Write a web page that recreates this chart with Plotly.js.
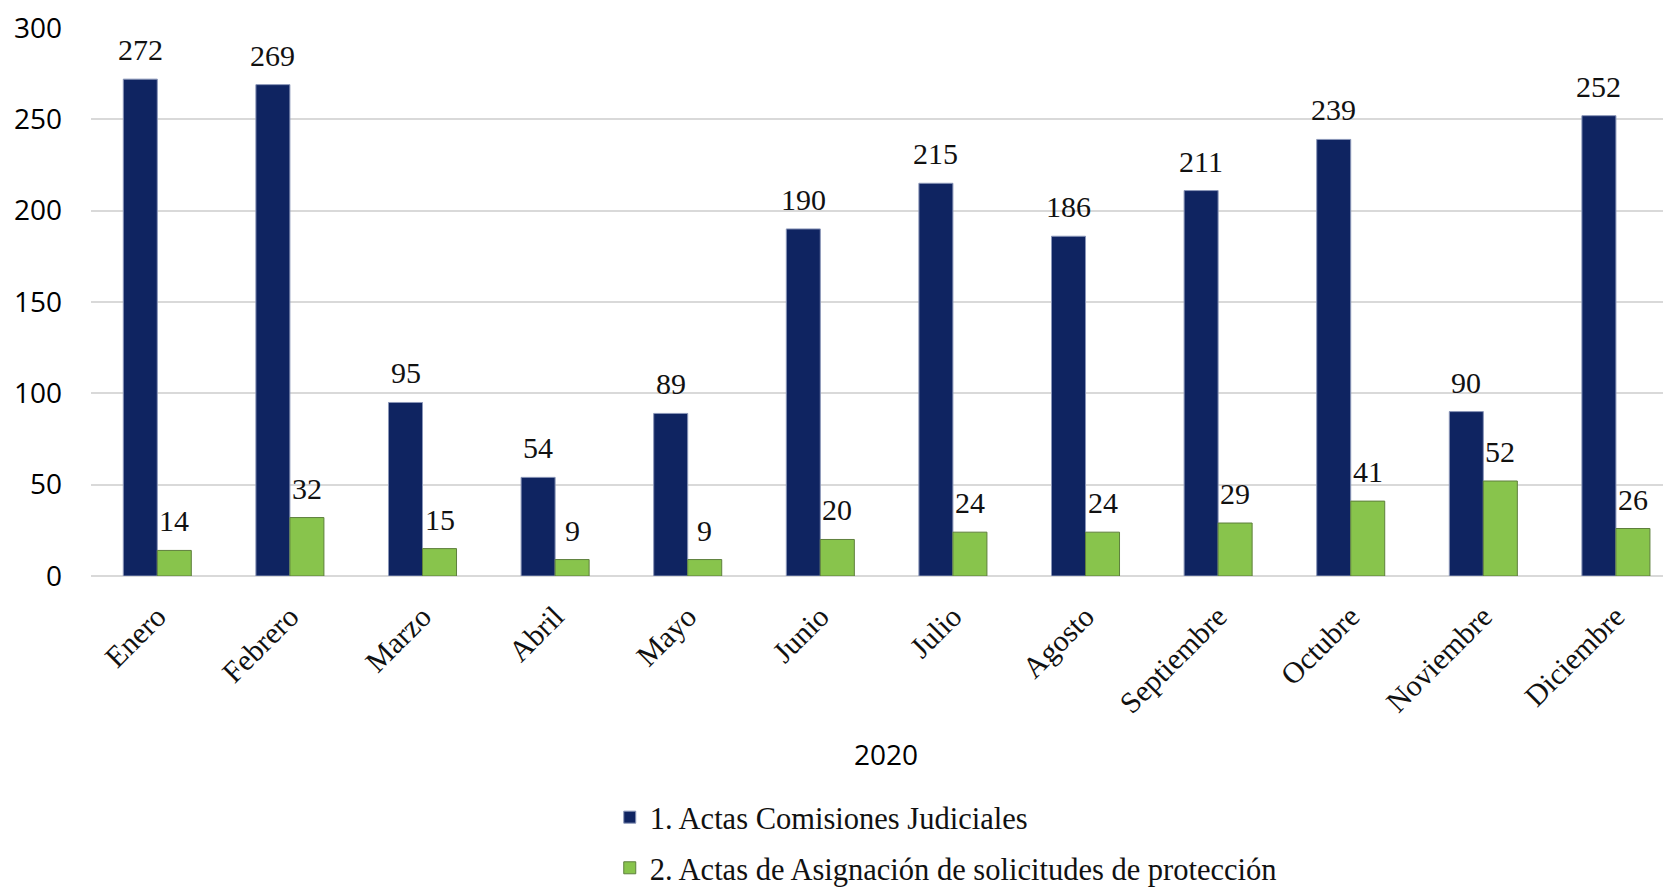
<!DOCTYPE html>
<html>
<head>
<meta charset="utf-8">
<script src="https://cdn.plot.ly/plotly-3.0.1.min.js"></script>
<style>html,body{margin:0;padding:0;background:#fff;}#chart{width:1663px;height:892px;}</style>
</head>
<body>
<div id="chart"></div>
<script>
const months = ["Enero","Febrero","Marzo","Abril","Mayo","Junio","Julio","Agosto","Septiembre","Octubre","Noviembre","Diciembre"];
const seriesNames = ["1. Actas Comisiones Judiciales", "2. Actas de Asignación de solicitudes de protección"];
const actasComisiones = [272,269,95,54,89,190,215,186,211,239,90,252];
const actasAsignacion = [14,32,15,9,9,20,24,24,29,41,52,26];
const axisTitle = "2020";
const yTicks = [0,50,100,150,200,250,300];

const serif = "Liberation Serif, Times New Roman, serif";
const sans = "Open Sans, Liberation Sans, sans-serif";

const traces = [
  {type:"bar", name:seriesNames[0], x:months, y:actasComisiones, legendgroup:"a",
   marker:{color:"#0f2461", line:{color:"#8a96b8", width:1}}, hoverinfo:"x+y"},
  {type:"bar", name:seriesNames[1], x:months, y:actasAsignacion, legendgroup:"b",
   marker:{color:"#88c44c", line:{color:"#5e7f3c", width:1}}, hoverinfo:"x+y"}
];

const annotations = [];
const barShift = 17;
[actasComisiones, actasAsignacion].forEach((vals, si) => {
  vals.forEach((v, i) => {
    annotations.push({x: months[i], y: v, xref:"x", yref:"y", text: String(v),
      showarrow:false, xanchor:"center", yanchor:"bottom",
      xshift: si === 0 ? -barShift : barShift, yshift: 11,
      font:{family:serif, size:30, color:"#111"}});
  });
});
annotations.push({x:0.506, y:-0.325, xref:"paper", yref:"paper", text:axisTitle,
  showarrow:false, xanchor:"center", yanchor:"middle",
  font:{family:sans, size:28, color:"#000"}});

const layout = {
  width:1663, height:892,
  margin:{l:91, r:0, t:28, b:316, pad:0, autoexpand:false},
  paper_bgcolor:"#fff", plot_bgcolor:"#fff",
  barmode:"group", bargap:0.487, bargroupgap:0,
  showlegend:true,
  legend:{x:0.33, y:-0.392, xanchor:"left", yanchor:"top", orientation:"v",
    traceorder:"grouped", tracegroupgap:8,
    font:{family:serif, size:30.5, color:"#111"}, bgcolor:"rgba(0,0,0,0)"},
  xaxis:{type:"category", range:[-0.5, 11.355], tickangle:-45, automargin:false,
    showgrid:false, zeroline:false, showline:false, ticks:"",
    tickfont:{family:serif, size:30, color:"#111"}, ticklabelstandoff:16,
    fixedrange:true},
  yaxis:{range:[0,300], tickvals:yTicks, showgrid:true, gridcolor:"#d9d9d9", gridwidth:2, automargin:false,
    zeroline:true, zerolinecolor:"#d9d9d9", zerolinewidth:2, showline:false, ticks:"",
    ticklabelstandoff:28,
    tickfont:{family:sans, size:28, color:"#000"}, fixedrange:true},
  annotations: annotations
};

Plotly.newPlot("chart", traces, layout, {displayModeBar:false, staticPlot:true});
</script>
</body>
</html>
